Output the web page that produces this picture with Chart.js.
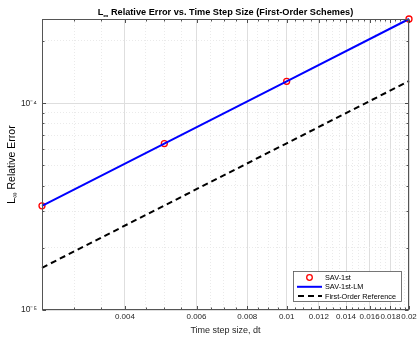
<!DOCTYPE html>
<html>
<head>
<meta charset="utf-8">
<script src="https://cdn.jsdelivr.net/npm/chart.js@4"></script>
<style>
  html, body { margin: 0; padding: 0; background: #fff; }
  #wrap { width: 417px; height: 339px; position: relative; }
</style>
</head>
<body>
<div id="wrap"><canvas id="chart"></canvas></div>
<script>
// L-inf error vs dt for the first-order schemes, log-log, matlab look.

const dt = [0.0025, 0.005, 0.01, 0.02];
const errSAV1st = [3.19e-5, 6.38e-5, 1.277e-4, 2.555e-4];
const errSAV1stLM = [3.19e-5, 6.38e-5, 1.277e-4, 2.555e-4];
const errRef = [1.6e-5, 3.2e-5, 6.4e-5, 1.28e-4];

const xMajorTicks = [0.004, 0.006, 0.008, 0.01, 0.012, 0.014, 0.016, 0.018, 0.02];
const xTickLabels = ["0.004", "0.006", "0.008", "0.01", "0.012", "0.014", "0.016", "0.018", "0.02"];
const yMajorTicks = [1e-5, 1e-4];
const yTickLabels = ["10\u207B\u2075", "10\u207B\u2074"];
const yMinorTicks = [2e-5, 3e-5, 4e-5, 5e-5, 6e-5, 7e-5, 8e-5, 9e-5, 2e-4];

const FONT = "'Liberation Sans', Arial, Helvetica, sans-serif";
const AXIS = "#262626";

// minor x ticks every 0.0005 across the range
const xMinorTicks = [];
for (let k = 25; k <= 200; k += 5) {
  const v = k / 10000;
  if (!xMajorTicks.some((m) => Math.abs(m - v) < 1e-9)) xMinorTicks.push(v);
}

const pts = (xs, ys) => xs.map((x, i) => ({ x, y: ys[i] }));

function tickList(major, minor) {
  return major.map((v) => ({ value: v, major: true }))
    .concat(minor.map((v) => ({ value: v, major: false })))
    .sort((a, b) => a.value - b.value);
}

function labelFor(v, ticks, labels) {
  const i = ticks.findIndex((t) => Math.abs(t - v) / t < 1e-6);
  return i >= 0 ? labels[i] : "";
}

// box, inward ticks, titles and legend drawn matlab-style
const matlabDecor = {
  id: "matlabDecor",
  afterDraw(chart) {
    const ctx = chart.ctx;
    const a = chart.chartArea;
    const xs = chart.scales.x, ys = chart.scales.y;
    const L = Math.round(a.left) + 0.5, R = Math.round(a.right) - 0.5;
    const T = Math.round(a.top) + 0.5, B = Math.round(a.bottom) - 0.5;
    ctx.save();

    // inward ticks
    ctx.strokeStyle = AXIS;
    ctx.lineWidth = 0.8;
    ctx.beginPath();
    for (const t of xs.ticks) {
      const p = Math.round(xs.getPixelForValue(t.value)) + 0.5;
      const len = t.major ? 3.5 : 2;
      ctx.moveTo(p, B); ctx.lineTo(p, B - len);
      ctx.moveTo(p, T); ctx.lineTo(p, T + len);
    }
    for (const t of ys.ticks) {
      const p = Math.round(ys.getPixelForValue(t.value)) + 0.5;
      const len = t.major ? 3.5 : 2;
      ctx.moveTo(L, p); ctx.lineTo(L + len, p);
      ctx.moveTo(R, p); ctx.lineTo(R - len, p);
    }
    ctx.stroke();

    // box
    ctx.strokeStyle = "#555";
    ctx.lineWidth = 1;
    ctx.strokeRect(L, T, R - L, B - T);

    // title with subscript infinity
    const cx = (a.left + a.right) / 2;
    drawSubLabel(ctx, "bold 9.2px " + FONT, "bold 7px " + FONT,
      "L", "\u221E", " Relative Error vs. Time Step Size (First-Order Schemes)", cx, 14.5, false);

    // x label
    ctx.fillStyle = AXIS;
    ctx.font = "9px " + FONT;
    ctx.textAlign = "center";
    ctx.textBaseline = "alphabetic";
    ctx.fillText("Time step size, dt", cx, 333);

    // y label, rotated
    ctx.save();
    ctx.translate(12, (a.top + a.bottom) / 2);
    ctx.rotate(-Math.PI / 2);
    drawSubLabel(ctx, "10.5px " + FONT, "7.5px " + FONT, "L", "\u221E", " Relative Error", 0, 0, true);
    ctx.restore();

    // legend box
    const bx = 293.5, by = 271.5, bw = 108, bh = 30;
    ctx.fillStyle = "#fff";
    ctx.fillRect(bx, by, bw, bh);
    ctx.strokeStyle = "#555";
    ctx.lineWidth = 0.8;
    ctx.strokeRect(bx, by, bw, bh);
    const rows = [277.5, 286.8, 296];
    const x0 = 297, x1 = 322;
    ctx.strokeStyle = "#ff0000";
    ctx.lineWidth = 1.3;
    ctx.beginPath();
    ctx.arc((x0 + x1) / 2, rows[0], 2.8, 0, Math.PI * 2);
    ctx.stroke();
    ctx.strokeStyle = "#0000ff";
    ctx.lineWidth = 2;
    ctx.beginPath();
    ctx.moveTo(x0, rows[1]); ctx.lineTo(x1, rows[1]);
    ctx.stroke();
    ctx.strokeStyle = "#000";
    ctx.setLineDash([6, 4]);
    ctx.beginPath();
    ctx.moveTo(x0 + 1, rows[2]); ctx.lineTo(x1, rows[2]);
    ctx.stroke();
    ctx.setLineDash([]);
    ctx.fillStyle = "#000";
    ctx.font = "7.3px " + FONT;
    ctx.textAlign = "left";
    ctx.textBaseline = "middle";
    const names = ["SAV-1st", "SAV-1st-LM", "First-Order Reference"];
    names.forEach((n, i) => ctx.fillText(n, 325, rows[i] + 0.5));

    ctx.restore();
  },
};

// "L" + subscript + rest, centered on cx
function drawSubLabel(ctx, font, subFont, head, sub, rest, cx, y, middle) {
  ctx.font = font;
  const wHead = ctx.measureText(head).width;
  const wRest = ctx.measureText(rest).width;
  ctx.font = subFont;
  const wSub = ctx.measureText(sub).width;
  let x = cx - (wHead + wSub + wRest) / 2;
  ctx.fillStyle = "#000";
  ctx.textAlign = "left";
  ctx.textBaseline = middle ? "middle" : "alphabetic";
  ctx.font = font;
  ctx.fillText(head, x, y);
  x += wHead;
  ctx.font = subFont;
  ctx.fillText(sub, x, y + 3);
  x += wSub;
  ctx.font = font;
  ctx.fillText(rest, x, y);
}

const gridColor = (c) => (c.tick && c.tick.major ? "#dedede" : "#eaeaea");
const gridDash = (c) => (c.tick && c.tick.major ? [] : [1, 2]);

new Chart(document.getElementById("chart"), {
  type: "scatter",
  data: {
    datasets: [
      {
        label: "SAV-1st",
        data: pts(dt, errSAV1st),
        showLine: false,
        pointStyle: "circle",
        pointRadius: 3,
        pointBorderWidth: 1.3,
        borderColor: "#ff0000",
        backgroundColor: "rgba(0,0,0,0)",
        clip: false,
        order: 1,
      },
      {
        label: "SAV-1st-LM",
        data: pts(dt, errSAV1stLM),
        showLine: true,
        pointRadius: 0,
        borderColor: "#0000ff",
        borderWidth: 2,
        clip: false,
        order: 0,
      },
      {
        label: "First-Order Reference",
        data: pts(dt, errRef),
        showLine: true,
        pointRadius: 0,
        borderColor: "#000",
        borderWidth: 2,
        borderDash: [6, 4],
        clip: false,
        order: 2,
      },
    ],
  },
  options: {
    responsive: true,
    maintainAspectRatio: false,
    animation: false,
    events: [],
    layout: { padding: { top: 19, right: 8, left: 0, bottom: 0 } },
    plugins: {
      legend: { display: false },
      tooltip: { enabled: false },
      title: { display: false },
    },
    scales: {
      x: {
        type: "logarithmic",
        min: dt[0],
        max: dt[dt.length - 1],
        afterBuildTicks: (s) => { s.ticks = tickList(xMajorTicks, xMinorTicks); },
        afterFit: (s) => { s.height = 29; s.paddingLeft = 0; s.paddingRight = 0; },
        ticks: {
          autoSkip: false,
          maxRotation: 0,
          padding: 2,
          color: AXIS,
          font: { family: FONT, size: 8 },
          callback: (v) => labelFor(v, xMajorTicks, xTickLabels),
        },
        grid: { drawTicks: false, color: gridColor, lineWidth: 1 },
        border: { display: false, dash: gridDash },
      },
      y: {
        type: "logarithmic",
        min: yMajorTicks[0],
        max: Math.max(...errSAV1st),
        afterBuildTicks: (s) => { s.ticks = tickList(yMajorTicks, yMinorTicks); },
        afterFit: (s) => { s.width = 42; s.paddingTop = 0; s.paddingBottom = 0; },
        ticks: {
          autoSkip: false,
          padding: 5,
          color: AXIS,
          font: { family: FONT, size: 8.5 },
          callback: (v) => labelFor(v, yMajorTicks, yTickLabels),
        },
        grid: { drawTicks: false, color: gridColor, lineWidth: 1 },
        border: { display: false, dash: gridDash },
      },
    },
  },
  plugins: [matlabDecor],
});
</script>
</body>
</html>
